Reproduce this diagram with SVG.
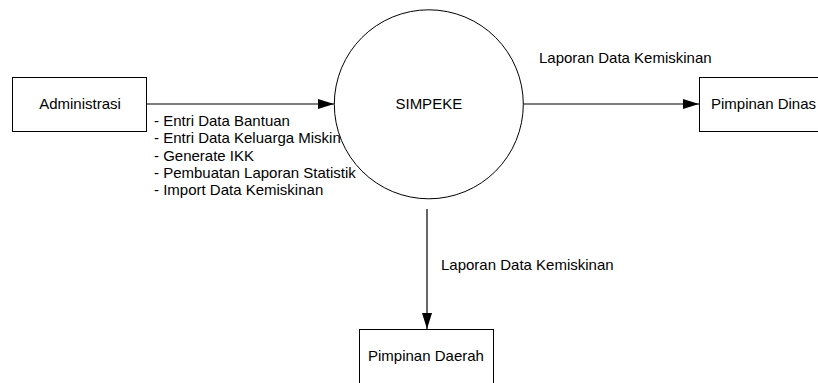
<svg xmlns="http://www.w3.org/2000/svg" width="818" height="383" viewBox="0 0 818 383">
<style>
.box{fill:#fff;stroke:#000;stroke-width:1}
.proc{fill:#fff;stroke:#000;stroke-width:1}
.t{font-family:"Liberation Sans",Arial,sans-serif;font-size:15px;fill:#000}
.c{stroke:#000;stroke-width:1.2;fill:none}
</style>
<defs>
<marker id="ah" markerWidth="16" markerHeight="10" refX="16" refY="5" orient="auto" markerUnits="userSpaceOnUse">
<path d="M0,0 L16,5 L0,10 Z" fill="#000"/>
</marker>
</defs>
<rect width="818" height="383" fill="#fff"/>
<g id="connectors">
<line class="c" x1="146" y1="104" x2="334" y2="104" marker-end="url(#ah)"/>
<line class="c" x1="523" y1="104" x2="699" y2="104" marker-end="url(#ah)"/>
<line class="c" x1="427" y1="209" x2="427" y2="329" marker-end="url(#ah)"/>
<text class="t" x="154" y="126">- Entri Data Bantuan</text>
<text class="t" x="154" y="143.3">- Entri Data Keluarga Miskin</text>
<text class="t" x="154" y="160.6">- Generate IKK</text>
<text class="t" x="154" y="177.9">- Pembuatan Laporan Statistik</text>
<text class="t" x="154" y="195.2">- Import Data Kemiskinan</text>
<text class="t" x="539" y="63">Laporan Data Kemiskinan</text>
<text class="t" x="441" y="270">Laporan Data Kemiskinan</text>
</g>
<g id="simpeke">
<circle class="proc" cx="428.8" cy="104.3" r="94.5"/>
<text class="t" x="428.8" y="109" text-anchor="middle">SIMPEKE</text>
</g>
<g id="administrasi">
<rect class="box" x="12.5" y="77.5" width="134" height="54"/>
<text class="t" x="80" y="109" text-anchor="middle">Administrasi</text>
</g>
<g id="pimpinan-dinas">
<rect class="box" x="699.5" y="77.5" width="140" height="54"/>
<text class="t" x="711" y="109">Pimpinan Dinas</text>
</g>
<g id="pimpinan-daerah">
<rect class="box" x="359.5" y="329.5" width="134" height="70"/>
<text class="t" x="368" y="361">Pimpinan Daerah</text>
</g>
</svg>
